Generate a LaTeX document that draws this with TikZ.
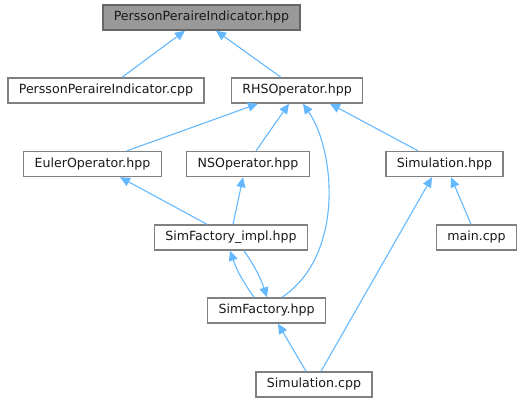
\documentclass[tikz,border=0pt]{standalone}
\usepackage{fontspec}
\setmainfont{DejaVu Sans}
\usetikzlibrary{arrows.meta}
\definecolor{edgeblue}{HTML}{63B8FF}
\definecolor{boxline}{HTML}{808080}
\begin{document}
\begin{tikzpicture}[x=1pt, y=-1pt,
            file/.style = {draw=boxline, line width=1.4pt, fill=white, minimum height=25pt, inner xsep=11pt, inner ysep=0pt, font=\fontsize{12.6}{14}\selectfont, text=black!90},
            top/.style = {file, fill=black!40, draw=black!60},
            dep/.style = {edgeblue, line width=1.1pt, -{Triangle[length=10pt, width=9pt]}}]
            \useasboundingbox (0, 0) rectangle (525, 403);
            \node [top] (ppih) at (201.5, 17.5) {PerssonPeraireIndicator.hpp};
            \node [file] (ppic) at (106, 90.5) {PerssonPeraireIndicator.cpp};
            \node [file] (rhs) at (297, 90.5) {RHSOperator.hpp};
            \node [file] (euler) at (92.5, 164) {EulerOperator.hpp};
            \node [file] (ns) at (248, 164) {NSOperator.hpp};
            \node [file] (simh) at (444.5, 164) {Simulation.hpp};
            \node [file] (impl) at (231, 237.5) {SimFactory\_impl.hpp};
            \node [file] (mainc) at (476.5, 237.5) {main.cpp};
            \node [file] (simfac) at (266.5, 310.5) {SimFactory.hpp};
            \node [file] (simc) at (314, 384.5) {Simulation.cpp};
            \draw [dep] ([xshift=16]ppic.north) -- ([xshift=-16.5]ppih.south);
            \draw [dep] ([xshift=-16]rhs.north) -- ([xshift=14.5]ppih.south);
            \draw [dep] ([xshift=34.5]euler.north) -- ([xshift=-39]rhs.south);
            \draw [dep] ([xshift=8]ns.north) -- ([xshift=-8]rhs.south);
            \draw [dep] ([xshift=-26.5]simh.north) -- ([xshift=33]rhs.south);
            \draw [dep] ([xshift=15.5]simfac.north) .. controls (345, 255) and (335, 150) .. ([xshift=6]rhs.south);
            \draw [dep] ([xshift=-24]impl.north) -- ([xshift=27.5]euler.south);
            \draw [dep] ([xshift=2]impl.north) -- ([xshift=-5]ns.south);
            \draw [dep] ([xshift=7]simc.north) -- ([xshift=-12.5]simh.south);
            \draw [dep] ([xshift=-5.5]mainc.north) -- ([xshift=6.5]simh.south);
            \draw [dep] ([xshift=-12.5]simfac.north) to [bend left=8] ([xshift=-1]impl.south);
            \draw [dep] ([xshift=13]impl.south) to [bend left=8] ([xshift=0.5]simfac.north);
            \draw [dep] ([xshift=-8]simc.north) -- ([xshift=11.5]simfac.south);
        \end{tikzpicture}
\end{document}
